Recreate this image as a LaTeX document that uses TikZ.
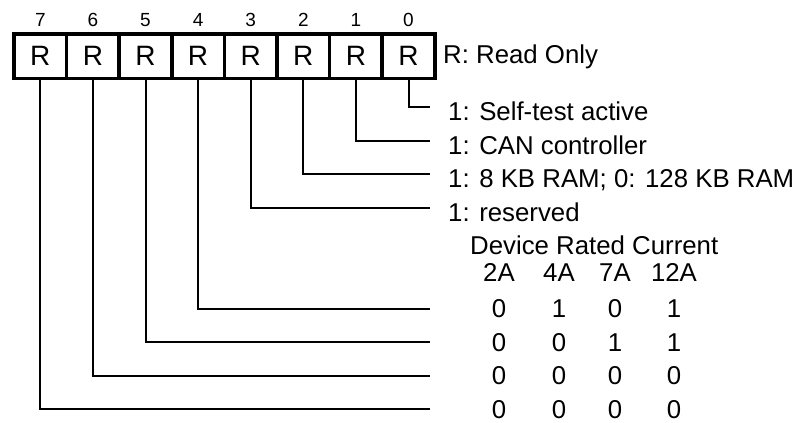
\documentclass[tikz,border=0pt]{standalone}
\usepackage{fontspec}
\setmainfont{Liberation Sans}
\usepackage{tikz}
\usetikzlibrary{chains}

\begin{document}
\begin{tikzpicture}[x=1pt,y=-1pt]

        \useasboundingbox (0,0) rectangle (801,423);

        \edef\cellwidth{52.6pt}
        \edef\cellheight{44.5pt}
        \tikzstyle{bitcell}=[draw,line width=3.5pt,outer sep=0pt,inner sep=0pt,minimum width=\cellwidth,minimum height=\cellheight,font=\fontsize{28}{32}\selectfont]
        \tikzstyle{bitnum}=[anchor=base,inner sep=0pt,font=\fontsize{19}{22}\selectfont]
        \tikzstyle{desc}=[anchor=west,inner sep=0pt,text height=27pt,text depth=0pt,font=\fontsize{25.8}{30}\selectfont]
        \tikzstyle{tabval}=[anchor=base,inner sep=0pt,font=\fontsize{25.8}{30}\selectfont]
        \tikzstyle{wire}=[line width=2pt]

        %% Register cells
        \begin{scope}[shift={(40.3,56)},start chain=1 going right,node distance=0pt]
            \node [on chain=1,bitcell] (b7) {R};
            \node [on chain=1,bitcell] (b6) {R};
            \node [on chain=1,bitcell] (b5) {R};
            \node [on chain=1,bitcell] (b4) {R};
            \node [on chain=1,bitcell] (b3) {R};
            \node [on chain=1,bitcell] (b2) {R};
            \node [on chain=1,bitcell] (b1) {R};
            \node [on chain=1,bitcell] (b0) {R};
        \end{scope}

        %% Bit numbers
        \node[bitnum] (n7) at ([yshift=7.75pt]b7.north) {7};
        \node[bitnum] (n6) at ([yshift=7.75pt]b6.north) {6};
        \node[bitnum] (n5) at ([yshift=7.75pt]b5.north) {5};
        \node[bitnum] (n4) at ([yshift=7.75pt]b4.north) {4};
        \node[bitnum] (n3) at ([yshift=7.75pt]b3.north) {3};
        \node[bitnum] (n2) at ([yshift=7.75pt]b2.north) {2};
        \node[bitnum] (n1) at ([yshift=7.75pt]b1.north) {1};
        \node[bitnum] (n0) at ([yshift=7.75pt]b0.north) {0};

        \node[desc,anchor=base west] (ro) at (443,63.5) {R: Read Only};

        %% Bit meanings
        \node[desc] (l0) at (448,107) {1: Self-test active};
        \node[desc] (l1) at (448,140.6) {1: CAN controller};
        \node[desc] (l2) at (448,174.2) {1: 8 KB RAM; 0: 128 KB RAM};
        \node[desc] (l3) at (448,207.8) {1: reserved};
        \node[desc] (head) at (470,241.4) {Device Rated Current};

        %% Rated current table
        \node[tabval] (c1) at (499,281) {2A};
        \node[tabval] (c2) at (559,281) {4A};
        \node[tabval] (c3) at (615,281) {7A};
        \node[tabval] (c4) at (674,281) {12A};

        \node[tabval] (r4a) at (499,317.5) {0};
        \node[tabval] (r4b) at (559,317.5) {1};
        \node[tabval] (r4c) at (615,317.5) {0};
        \node[tabval] (r4d) at (674,317.5) {1};

        \node[tabval] (r5a) at (499,351.1) {0};
        \node[tabval] (r5b) at (559,351.1) {0};
        \node[tabval] (r5c) at (615,351.1) {1};
        \node[tabval] (r5d) at (674,351.1) {1};

        \node[tabval] (r6a) at (499,384.7) {0};
        \node[tabval] (r6b) at (559,384.7) {0};
        \node[tabval] (r6c) at (615,384.7) {0};
        \node[tabval] (r6d) at (674,384.7) {0};

        \node[tabval] (r7a) at (499,418.2) {0};
        \node[tabval] (r7b) at (559,418.2) {0};
        \node[tabval] (r7c) at (615,418.2) {0};
        \node[tabval] (r7d) at (674,418.2) {0};

        \coordinate (e4) at (430,308.6);
        \coordinate (e5) at (430,342.2);
        \coordinate (e6) at (430,375.8);
        \coordinate (e7) at (430,409.4);

        %% Wires
        \draw[wire,shorten >=18pt] (b0.south) |- (l0.west);
        \draw[wire,shorten >=18pt] (b1.south) |- (l1.west);
        \draw[wire,shorten >=18pt] (b2.south) |- (l2.west);
        \draw[wire,shorten >=18pt] (b3.south) |- (l3.west);
        \draw[wire] (b4.south) |- (e4);
        \draw[wire] (b5.south) |- (e5);
        \draw[wire] (b6.south) |- (e6);
        \draw[wire] (b7.south) |- (e7);

\end{tikzpicture}
\end{document}
